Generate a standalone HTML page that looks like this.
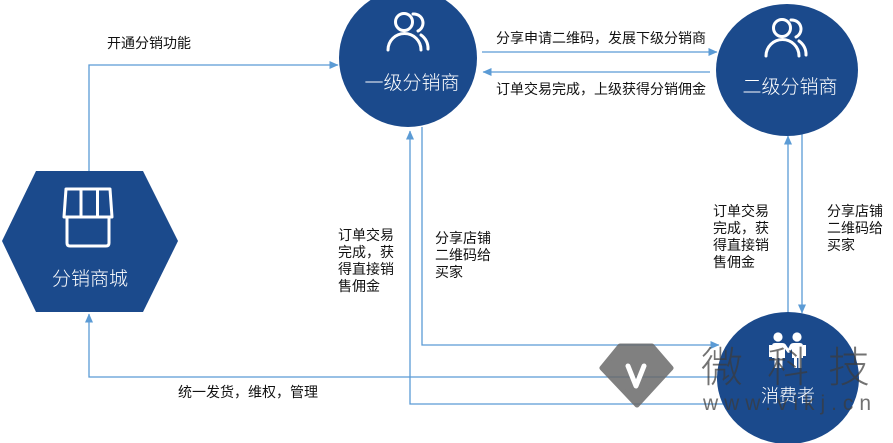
<!DOCTYPE html>
<html>
<head>
<meta charset="utf-8">
<style>
  html,body{margin:0;padding:0;background:#fff;}
  body{width:893px;height:443px;overflow:hidden;}
  svg{display:block;}
  .lbl{font-family:"Liberation Sans","Noto Sans CJK SC",sans-serif;font-size:14px;fill:#111;}
  .nd{font-family:"Liberation Sans","Noto Sans CJK SC",sans-serif;font-size:19px;fill:#fff;font-weight:300;}
</style>
</head>
<body>
<svg width="893" height="443" viewBox="0 0 893 443" xmlns="http://www.w3.org/2000/svg">
  <defs>
    <marker id="ah" markerWidth="9" markerHeight="8" refX="8.5" refY="4" orient="auto" markerUnits="userSpaceOnUse">
      <path d="M0,0 L9,4 L0,8 Z" fill="#5b9bd5"/>
    </marker>
  </defs>

  <g fill="none" stroke="#5b9bd5" stroke-width="1.3">
    <polyline points="89,172 89,65 338,65" marker-end="url(#ah)"/>
    <polyline points="722,377 89,377 89,314" marker-end="url(#ah)"/>
    <line x1="482" y1="52" x2="717" y2="52" marker-end="url(#ah)"/>
    <line x1="710" y1="72" x2="483" y2="72" marker-end="url(#ah)"/>
    <polyline points="726,404 410,404 410,131" marker-end="url(#ah)"/>
    <polyline points="422,127 422,345 719,345" marker-end="url(#ah)"/>
    <line x1="788" y1="314" x2="788" y2="136" marker-end="url(#ah)"/>
    <line x1="802" y1="134" x2="802" y2="313" marker-end="url(#ah)"/>
  </g>

  <!-- Hexagon 分销商城 -->
  <polygon points="36,171 143,171 178,241 143,312 36,312 2,241" fill="#1b4a8c"/>
  <g fill="none" stroke="#fff" stroke-width="3" stroke-linejoin="round" stroke-linecap="round">
    <path d="M66,189 L110,189 L112,217 L64,217 Z"/>
    <line x1="81" y1="189" x2="81" y2="217"/>
    <line x1="97.5" y1="189" x2="97.5" y2="217"/>
    <path d="M67,218 L67,243 Q67,246 70,246 L106,246 Q109,246 109,243 L109,218"/>
  </g>
  <text class="nd" x="90" y="285" text-anchor="middle">分销商城</text>

  <!-- Circle 1 -->
  <circle cx="408" cy="58" r="69" fill="#1b4a8c"/>
  <g fill="none" stroke="#fff" stroke-width="3" stroke-linecap="round">
    <circle cx="404" cy="22" r="8.5"/>
    <path d="M388,50 A16.5 16.5 0 0 1 421,50"/>
    <path d="M413,14 A9 9 0 0 1 418,31"/>
    <path d="M421,35 A16 16 0 0 1 428,49"/>
  </g>
  <text class="nd" x="412" y="89" text-anchor="middle">一级分销商</text>

  <!-- Circle 2 -->
  <ellipse cx="787" cy="70" rx="71" ry="66" fill="#1b4a8c"/>
  <g fill="none" stroke="#fff" stroke-width="3" stroke-linecap="round" transform="translate(378,6)">
    <circle cx="404" cy="22" r="8.5"/>
    <path d="M388,50 A16.5 16.5 0 0 1 421,50"/>
    <path d="M413,14 A9 9 0 0 1 418,31"/>
    <path d="M421,35 A16 16 0 0 1 428,49"/>
  </g>
  <text class="nd" x="790" y="93" text-anchor="middle">二级分销商</text>

  <!-- Consumer -->
  <ellipse cx="788" cy="378" rx="71" ry="66" fill="#1b4a8c"/>
  <g fill="#fff">
    <circle cx="778" cy="337" r="4.6"/>
    <circle cx="797" cy="337" r="4.6"/>
    <path d="M772,346 Q772,343 775,343 L782,343 Q785,343 786,345 L790,351 L788,353 L785,349 L785,358 L782.5,358 L782.5,368 L779.5,368 L779.5,358 L777.5,358 L777.5,368 L774.5,368 L774.5,358 L772,358 Z"/>
    <rect x="769" y="345" width="3" height="12"/>
    <path d="M803,346 Q803,343 800,343 L794,343 Q791,343 790,345 L787,351 L789,353 L792,349 L792,358 L794,358 L794,368 L797,368 L797,358 L798.5,358 L798.5,368 L801.5,368 L801.5,358 L803,358 Z"/>
    <rect x="803" y="345" width="3" height="11"/>
  </g>
  <text class="nd" x="788" y="402" text-anchor="middle" style="font-size:18px">消费者</text>

  <!-- labels -->
  <text class="lbl" x="107" y="48">开通分销功能</text>
  <text class="lbl" x="496" y="43">分享申请二维码，发展下级分销商</text>
  <text class="lbl" x="496" y="94">订单交易完成，上级获得分销佣金</text>
  <text class="lbl" x="178" y="397">统一发货，维权，管理</text>

  <text class="lbl" x="338" y="240">订单交易</text>
  <text class="lbl" x="338" y="257">完成，获</text>
  <text class="lbl" x="338" y="274">得直接销</text>
  <text class="lbl" x="338" y="291">售佣金</text>

  <text class="lbl" x="435" y="243">分享店铺</text>
  <text class="lbl" x="435" y="260">二维码给</text>
  <text class="lbl" x="435" y="277">买家</text>

  <text class="lbl" x="713" y="216">订单交易</text>
  <text class="lbl" x="713" y="233">完成，获</text>
  <text class="lbl" x="713" y="250">得直接销</text>
  <text class="lbl" x="713" y="267">售佣金</text>

  <text class="lbl" x="827" y="216">分享店铺</text>
  <text class="lbl" x="827" y="233">二维码给</text>
  <text class="lbl" x="827" y="250">买家</text>

  <!-- watermark -->
  <g opacity="0.85">
    <path d="M620,346 L652,346 L671,368 L637,405 L602,368 Z" fill="#6a6a6a" stroke="#6a6a6a" stroke-width="5" stroke-linejoin="round"/>
  </g>
  <path d="M628,366 L636,386 L644,366" fill="none" stroke="#fff" stroke-width="5" stroke-linecap="round" stroke-linejoin="round"/>
  <g font-family="'Liberation Sans','Noto Sans CJK SC',sans-serif" fill="rgba(60,60,60,0.72)" font-weight="300">
    <text x="701" y="382" font-size="42">微</text>
    <text x="767" y="382" font-size="42">科</text>
    <text x="828" y="382" font-size="42">技</text>
    <text x="703" y="410" font-size="21" textLength="168" lengthAdjust="spacing">www.vikj.cn</text>
  </g>
</svg>
</body>
</html>
